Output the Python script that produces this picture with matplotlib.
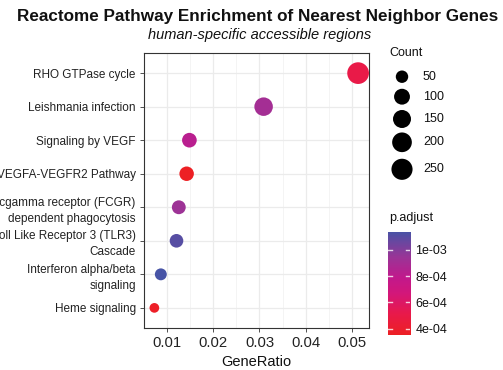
import numpy as np
import matplotlib
matplotlib.use("Agg")
import matplotlib.pyplot as plt
from matplotlib.colors import LinearSegmentedColormap, Normalize

plt.rcParams['font.family'] = ['Liberation Sans', 'DejaVu Sans']

# data
pathways = ["RHO GTPase cycle", "Leishmania infection", "Signaling by VEGF",
            "VEGFA-VEGFR2 Pathway", "Fcgamma receptor (FCGR)\ndependent phagocytosis",
            "Toll Like Receptor 3 (TLR3)\nCascade", "Interferon alpha/beta\nsignaling",
            "Heme signaling"]
gene_ratio = [0.0514, 0.0309, 0.0148, 0.0142, 0.0125, 0.0120, 0.0086, 0.0072]
counts = [272, 164, 78, 75, 66, 63, 46, 38]
p_adjust = [5.0e-4, 9.0e-4, 8.2e-4, 3.52e-4, 9.3e-4, 1.10e-3, 1.137e-3, 3.7e-4]
size_breaks = [50, 100, 150, 200, 250]
cbar_ticks = [4e-4, 6e-4, 8e-4, 1e-3]
cbar_labels = ["4e-04", "6e-04", "8e-04", "1e-03"]

cmap = LinearSegmentedColormap.from_list("padj", [
    (0.0, "#ED2024"), (0.2, "#E91A4A"), (0.4, "#D3177A"),
    (0.55, "#C2198C"), (0.75, "#9A3597"), (1.0, "#4754A6")])
norm = Normalize(vmin=min(p_adjust), vmax=max(p_adjust))

cmin, cmax = min(counts), max(counts)


def dot_size(c):
    c = np.asarray(c, dtype=float)
    d_px = 9.7 + 12.0 * np.sqrt((c - cmin) / (cmax - cmin))
    return (d_px * 0.72) ** 2


W, H = 503, 370
fig = plt.figure(figsize=(W / 100, H / 100), dpi=100)

# main panel
ax = fig.add_axes([144 / W, (H - 328) / H, 224.7 / W, 275 / H])
y = np.arange(len(pathways))[::-1] + 1
ax.scatter(gene_ratio, y, s=dot_size(counts), c=p_adjust, cmap=cmap, norm=norm,
           linewidths=0, zorder=3)
ax.set_xlim(0.00495, 0.0537)
ax.set_ylim(0.4, len(pathways) + 0.6)
ax.set_yticks(y)
ax.set_yticklabels(pathways, fontsize=8.5, color="#222222", linespacing=1.45)
ax.set_xticks([0.01, 0.02, 0.03, 0.04, 0.05])
ax.set_xticklabels(["0.01", "0.02", "0.03", "0.04", "0.05"], fontsize=10.7, color="#222222")
ax.set_xticks([0.005, 0.015, 0.025, 0.035, 0.045], minor=True)
ax.grid(True, which="major", color="#EBEBEB", lw=0.9, zorder=0)
ax.grid(True, which="minor", axis="x", color="#F3F3F3", lw=0.6, zorder=0)
ax.set_axisbelow(True)
ax.tick_params(axis="both", which="major", length=3, width=0.6, color="#333333", pad=3)
ax.tick_params(axis="x", which="minor", length=0)
for sp in ax.spines.values():
    sp.set_color("#333333")
    sp.set_linewidth(0.8)
ax.set_xlabel("GeneRatio", fontsize=10.5, color="#111111", labelpad=3)

# titles
fig.text(258 / W, 1 - 16 / H, "Reactome Pathway Enrichment of Nearest Neighbor Genes",
         ha="center", va="center", fontsize=12.3, fontweight="bold", color="#111111")
fig.text(260 / W, 1 - 35 / H, "human-specific accessible regions",
         ha="center", va="center", fontsize=10.5, style="italic", color="#111111")

# size legend, pixel coords
lax = fig.add_axes([0, 0, 1, 1], facecolor="none")
lax.set_xlim(0, W)
lax.set_ylim(H, 0)
lax.axis("off")
lax.text(389, 53, "Count", fontsize=9, va="center", ha="left", color="#111111")
leg_y = [76.7, 96.7, 119, 142.3, 169.3]
lax.scatter([402] * len(size_breaks), leg_y, s=dot_size(size_breaks), color="black",
            linewidths=0)
for v, yy in zip(size_breaks, leg_y):
    lax.text(423, yy, str(v), fontsize=9, va="center", ha="left", color="#111111")
lax.text(389, 218, "p.adjust", fontsize=9, va="center", ha="left", color="#111111")

# colour bar
cb_top, cb_bot = 231.7, 335
cax = fig.add_axes([387.7 / W, (H - cb_bot) / H, 22.3 / W, (cb_bot - cb_top) / H])
grad = np.linspace(norm.vmin, norm.vmax, 256).reshape(-1, 1)
cax.imshow(grad, aspect="auto", origin="lower", cmap=cmap, norm=norm,
           extent=[0, 1, norm.vmin, norm.vmax])
cax.set_xlim(0, 1)
cax.set_ylim(norm.vmin, norm.vmax)
for t in cbar_ticks:
    cax.plot([0, 0.2], [t, t], color="white", lw=1, alpha=0.8)
    cax.plot([0.8, 1], [t, t], color="white", lw=1, alpha=0.8)
cax.set_xticks([])
cax.yaxis.tick_right()
cax.set_yticks(cbar_ticks)
cax.set_yticklabels(cbar_labels, fontsize=9, color="#111111")
cax.tick_params(axis="y", length=0, pad=4)
for sp in cax.spines.values():
    sp.set_visible(False)

fig.savefig("out.png", dpi=100)
